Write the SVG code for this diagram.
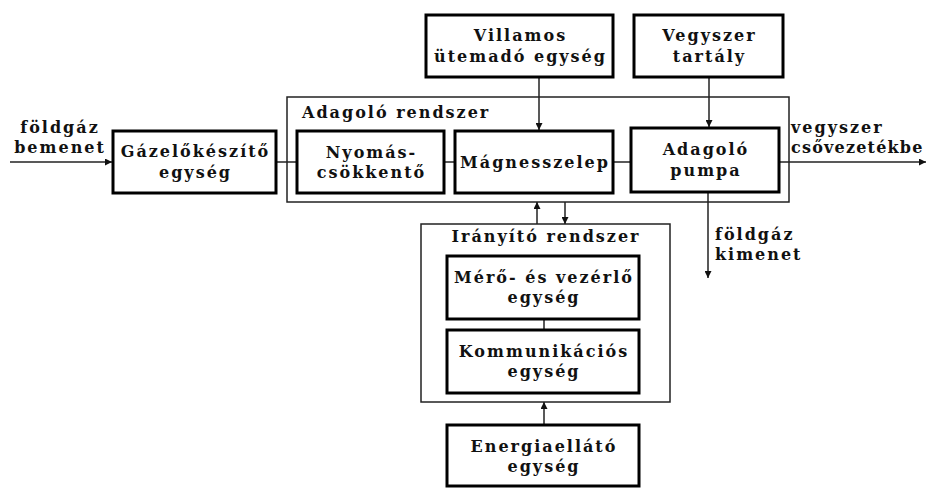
<svg xmlns="http://www.w3.org/2000/svg" width="930" height="488" viewBox="0 0 930 488">
  <style>
    .box { fill: #fff; stroke: #000; stroke-width: 3; }
    .frame { fill: none; stroke: #222; stroke-width: 1.5; }
    .line { fill: none; stroke: #222; stroke-width: 1.5; }
    .arr { fill: none; stroke: #222; stroke-width: 1.5; marker-end: url(#head); }
    text { font-family: "DejaVu Serif", "Liberation Serif", serif; font-weight: bold; font-size: 16px; fill: #111; letter-spacing: 2px; }
    .c { text-anchor: middle; }
    .tight { letter-spacing: 1.2px; }
  </style>
  <defs>
    <marker id="head" viewBox="0 0 10 10" refX="10" refY="5" markerWidth="8" markerHeight="7" markerUnits="userSpaceOnUse" orient="auto">
      <path d="M0,0 L10,5 L0,10 z" fill="#111"/>
    </marker>
  </defs>
  <rect width="930" height="488" fill="#fff"/>

  <!-- subsystem frames -->
  <g id="adagolo-rendszer">
    <rect class="frame" x="287" y="97" width="502" height="105"/>
    <text x="302" y="118">Adagoló rendszer</text>
  </g>
  <g id="iranyito-rendszer">
    <rect class="frame" x="421" y="224" width="249" height="178"/>
    <text class="c" x="546" y="242">Irányító rendszer</text>
  </g>

  <!-- connectors -->
  <g id="connectors">
    <line class="arr" x1="10" y1="162" x2="112" y2="162"/>
    <line class="line" x1="276" y1="162" x2="297" y2="162"/>
    <line class="line" x1="444" y1="162" x2="455" y2="162"/>
    <line class="line" x1="613" y1="162" x2="631" y2="162"/>
    <line class="arr" x1="779" y1="162" x2="926" y2="162"/>
    <line class="arr" x1="539" y1="77" x2="539" y2="130"/>
    <line class="arr" x1="709" y1="77" x2="709" y2="127"/>
    <line class="arr" x1="708" y1="192" x2="708" y2="278"/>
    <line class="arr" x1="537" y1="224" x2="537" y2="202"/>
    <line class="arr" x1="565" y1="202" x2="565" y2="224"/>
    <line class="line" x1="544" y1="319" x2="544" y2="330"/>
    <line class="arr" x1="544" y1="425" x2="544" y2="402"/>
  </g>

  <!-- flow labels -->
  <g id="label-bemenet">
    <text class="c" x="60" y="133">földgáz</text>
    <text class="c" x="60" y="153">bemenet</text>
  </g>
  <g id="label-vegyszer-ki">
    <text x="791" y="133">vegyszer</text>
    <text class="tight" x="791" y="153">csővezetékbe</text>
  </g>
  <g id="label-kimenet">
    <text x="715" y="240">földgáz</text>
    <text x="715" y="260">kimenet</text>
  </g>

  <!-- blocks -->
  <g id="gazelokeszito">
    <rect class="box" x="113" y="131" width="163" height="62"/>
    <text class="c" x="195.5" y="157">Gázelőkészítő</text>
    <text class="c" x="195.5" y="178">egység</text>
  </g>
  <g id="villamos-utemado">
    <rect class="box" x="426" y="15" width="187" height="62"/>
    <text class="c" x="520.5" y="41">Villamos</text>
    <text class="c" x="520.5" y="62">ütemadó egység</text>
  </g>
  <g id="vegyszer-tartaly">
    <rect class="box" x="634" y="15" width="149" height="62"/>
    <text class="c" x="709.5" y="41">Vegyszer</text>
    <text class="c" x="709.5" y="62">tartály</text>
  </g>
  <g id="nyomascsokkento">
    <rect class="box" x="297" y="131" width="147" height="62"/>
    <text class="c" x="371.5" y="158">Nyomás-</text>
    <text class="c" x="371.5" y="178">csökkentő</text>
  </g>
  <g id="magnesszelep">
    <rect class="box" x="455" y="131" width="158" height="62"/>
    <text class="c" x="535" y="168">Mágnesszelep</text>
  </g>
  <g id="adagolo-pumpa">
    <rect class="box" x="631" y="128" width="148" height="64"/>
    <text class="c" x="706" y="155">Adagoló</text>
    <text class="c" x="706" y="176">pumpa</text>
  </g>
  <g id="mero-vezerlo">
    <rect class="box" x="447" y="256" width="192" height="63"/>
    <text class="c" x="544" y="283">Mérő- és vezérlő</text>
    <text class="c" x="544" y="303">egység</text>
  </g>
  <g id="kommunikacios">
    <rect class="box" x="447" y="330" width="192" height="63"/>
    <text class="c" x="544" y="357">Kommunikációs</text>
    <text class="c" x="544" y="377">egység</text>
  </g>
  <g id="energiaellato">
    <rect class="box" x="447" y="425" width="192" height="61"/>
    <text class="c" x="544" y="452">Energiaellátó</text>
    <text class="c" x="544" y="472">egység</text>
  </g>
</svg>
